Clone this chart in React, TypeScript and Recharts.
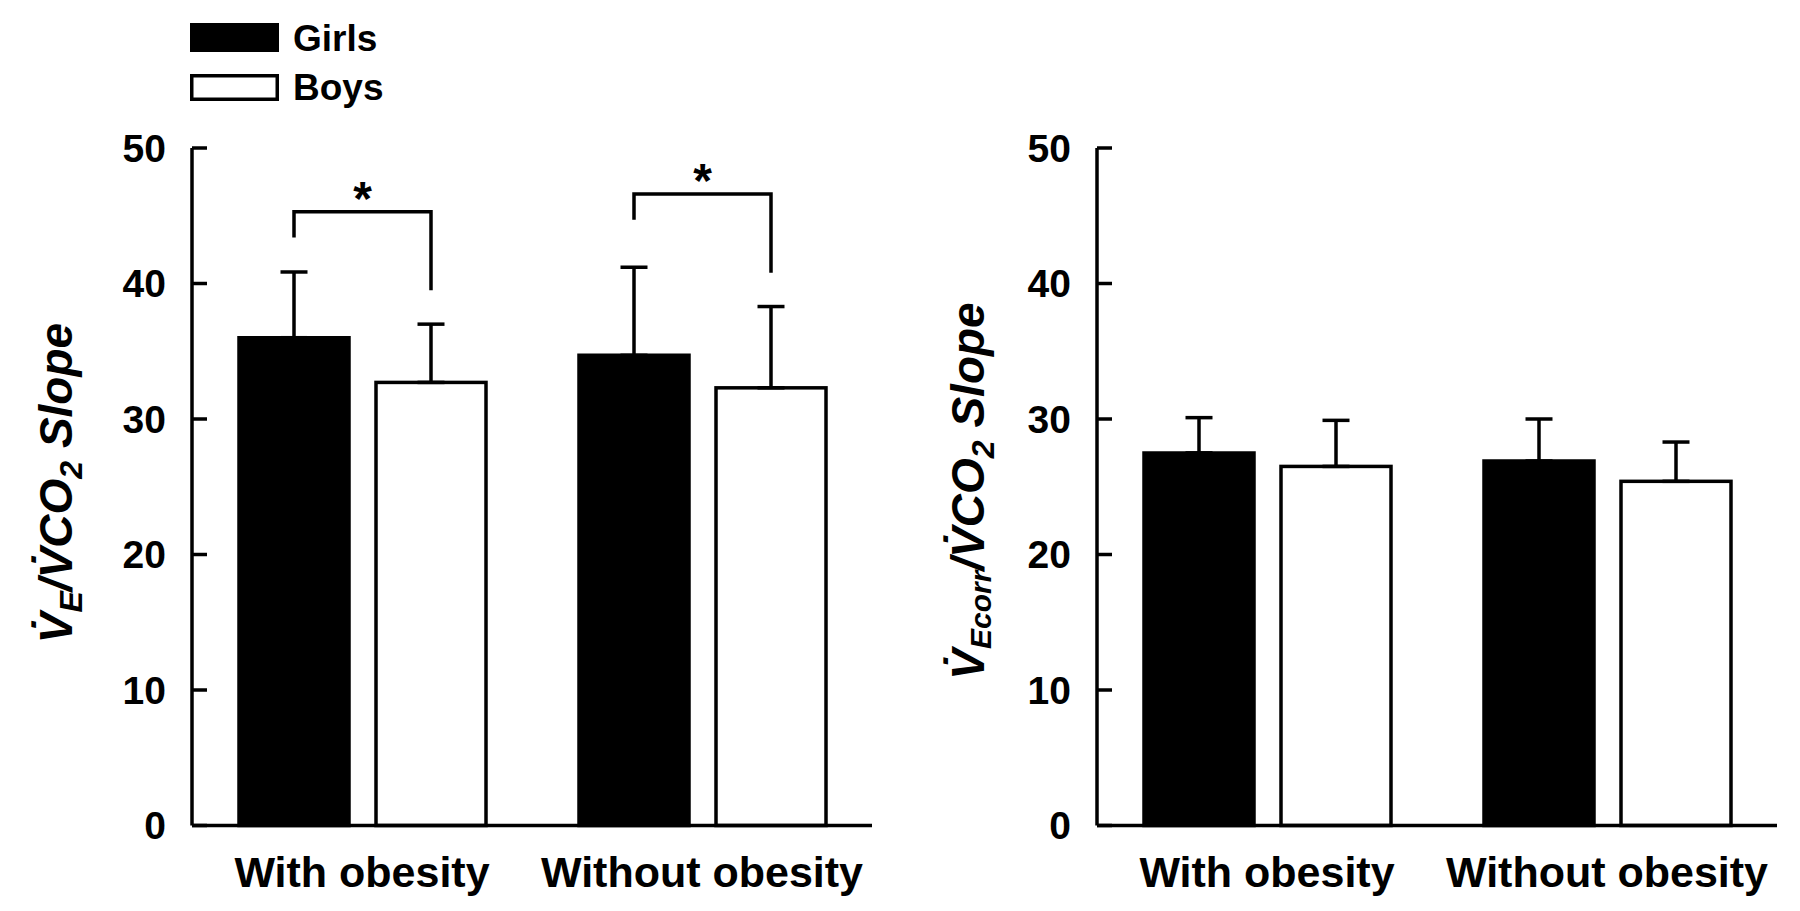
import React from 'react';
import { BarChart, Bar, XAxis, YAxis, ErrorBar } from 'recharts';

const FONT = '"Liberation Sans", Arial, Helvetica, sans-serif';

const groups = ['With obesity', 'Without obesity'];
const yTicks = [0, 10, 20, 30, 40, 50];
const seriesNames = ['Girls', 'Boys'];

// Left panel: VE/VCO2 slope
const slopeGirls = [36.0, 34.7];
const slopeGirlsSD = [4.85, 6.5];
const slopeBoys = [32.7, 32.3];
const slopeBoysSD = [4.3, 6.0];

// Right panel: VEcorr/VCO2 slope
const corrGirls = [27.5, 26.9];
const corrGirlsSD = [2.6, 3.1];
const corrBoys = [26.5, 25.4];
const corrBoysSD = [3.4, 2.9];

// significance brackets (left panel)
const bracketTop = [45.3, 46.6];
const bracketGirlsEnd = [43.4, 44.7];
const bracketBoysEnd = [39.5, 40.8];
const bracketMark = ['*', '*'];

const BAR_SIZE = 110;
const BAR_GAP = 27;
const STROKE = 3.5;

const slopeData = groups.map((g, i) => ({
  group: g,
  girls: slopeGirls[i],
  girlsErr: [0, slopeGirlsSD[i]],
  boys: slopeBoys[i],
  boysErr: [0, slopeBoysSD[i]],
  bTop: bracketTop[i],
  bGirls: bracketGirlsEnd[i],
  bBoys: bracketBoysEnd[i],
  mark: bracketMark[i],
}));

const corrData = groups.map((g, i) => ({
  group: g,
  girls: corrGirls[i],
  girlsErr: [0, corrGirlsSD[i]],
  boys: corrBoys[i],
  boysErr: [0, corrBoysSD[i]],
}));

const makeBoysShape = (withBracket: boolean) => (props: any) => {
  const { x, y, width, height, payload } = props;
  const rect = (
    <rect x={x} y={y} width={width} height={height} fill="#fff" stroke="#000" strokeWidth={STROKE} />
  );
  if (!withBracket || !payload || payload.bTop == null) return rect;
  const base = y + height;
  const per = height / payload.boys;
  const yOf = (v: number) => base - v * per;
  const bx = x + width / 2;
  const gx = bx - (width + BAR_GAP);
  const yt = yOf(payload.bTop);
  return (
    <g>
      {rect}
      <path
        d={`M${gx},${yOf(payload.bGirls)} V${yt} H${bx} V${yOf(payload.bBoys)}`}
        fill="none"
        stroke="#000"
        strokeWidth={STROKE}
      />
      <text
        x={(gx + bx) / 2}
        y={yt + 3}
        textAnchor="middle"
        fontFamily={FONT}
        fontWeight="bold"
        fontSize={48}
        fill="#000"
      >
        {payload.mark}
      </text>
    </g>
  );
};

const YTick = (props: any) => {
  const { x, y, payload } = props;
  return (
    <g>
      <line x1={x + 26} x2={x + 26 + 15} y1={y} y2={y} stroke="#000" strokeWidth={STROKE} />
      <text
        x={x}
        y={y}
        dy="0.355em"
        textAnchor="end"
        fontFamily={FONT}
        fontWeight="bold"
        fontSize={39}
        fill="#000"
      >
        {payload.value}
      </text>
    </g>
  );
};

const XTick = (props: any) => {
  const { x, y, payload } = props;
  return (
    <text
      x={x}
      y={y + 61.5}
      textAnchor="middle"
      fontFamily={FONT}
      fontWeight="bold"
      fontSize={43}
      fill="#000"
    >
      {payload.value}
    </text>
  );
};

function Panel({ data, left, right, brackets }: any) {
  return (
    <BarChart
      width={900}
      height={911}
      data={data}
      margin={{ top: 148, right, bottom: 15.5, left }}
      barSize={BAR_SIZE}
      barGap={BAR_GAP}
    >
      <XAxis
        dataKey="group"
        tickLine={false}
        axisLine={{ stroke: '#000', strokeWidth: STROKE }}
        height={70}
        tickSize={0}
        tickMargin={0}
        tick={XTick}
        interval={0}
      />
      <YAxis
        domain={[0, 50]}
        ticks={yTicks}
        width={100}
        tickLine={false}
        axisLine={{ stroke: '#000', strokeWidth: STROKE }}
        tickSize={0}
        tickMargin={26}
        tick={YTick}
        interval={0}
      />
      <Bar dataKey="girls" name={seriesNames[0]} fill="#000" stroke="#000" strokeWidth={STROKE} isAnimationActive={false}>
        <ErrorBar dataKey="girlsErr" width={13.5} stroke="#000" strokeWidth={STROKE} isAnimationActive={false} />
      </Bar>
      <Bar
        dataKey="boys"
        name={seriesNames[1]}
        fill="#fff"
        stroke="#000"
        strokeWidth={STROKE}
        shape={makeBoysShape(brackets)}
        isAnimationActive={false}
      >
        <ErrorBar dataKey="boysErr" width={13.5} stroke="#000" strokeWidth={STROKE} isAnimationActive={false} />
      </Bar>
    </BarChart>
  );
}

const AxisTitle = ({ x, y, sub, subSize, subDy }: any) => (
  <text
    transform={`translate(${x},${y}) rotate(-90)`}
    textAnchor="middle"
    fontFamily={FONT}
    fontWeight="bold"
    fontStyle="italic"
    fontSize={46}
    fill="#000"
  >
    <tspan>{'V\u0307'}</tspan>
    <tspan fontSize={subSize} dy={subDy}>{sub}</tspan>
    <tspan dy={-subDy}>{'/V\u0307CO'}</tspan>
    <tspan fontSize={32} dy={10}>2</tspan>
    <tspan dy={-10}>{' Slope'}</tspan>
  </text>
);

export default function App() {
  return (
    <div style={{ position: 'absolute', left: 0, top: 0, width: 1800, height: 911, background: '#fff' }}>
      <div style={{ position: 'absolute', left: 0, top: 0 }}>
        <Panel data={slopeData} left={92} right={28} brackets={true} />
      </div>
      <div style={{ position: 'absolute', left: 900, top: 0 }}>
        <Panel data={corrData} left={97} right={23} brackets={false} />
      </div>
      <svg
        width={1800}
        height={911}
        style={{ position: 'absolute', left: 0, top: 0, pointerEvents: 'none' }}
      >
        <rect x={190} y={23} width={89} height={29} fill="#000" />
        <rect x={191.75} y={75.75} width={85.5} height={23.5} fill="#fff" stroke="#000" strokeWidth={STROKE} />
        <text x={293} y={51} fontFamily={FONT} fontWeight="bold" fontSize={37} fill="#000">
          {seriesNames[0]}
        </text>
        <text x={293} y={100} fontFamily={FONT} fontWeight="bold" fontSize={37} fill="#000">
          {seriesNames[1]}
        </text>
        <AxisTitle x={72} y={483} sub="E" subSize={32} subDy={10} />
        <AxisTitle x={984} y={491} sub="Ecorr" subSize={30} subDy={7} />
      </svg>
    </div>
  );
}
